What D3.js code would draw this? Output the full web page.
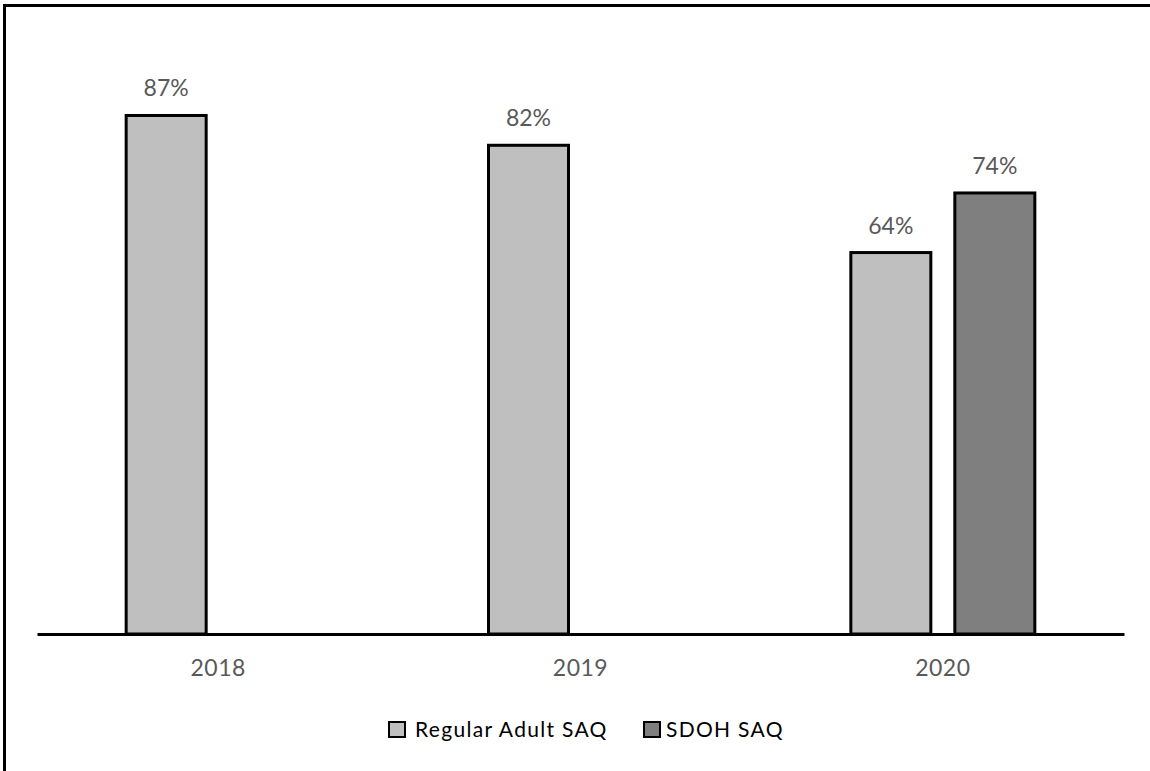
<!DOCTYPE html>
<html>
<head>
<meta charset="utf-8">
<script src="https://cdn.jsdelivr.net/npm/d3@7"></script>
<style>
  html, body { margin: 0; padding: 0; background: #fff; }
  svg { display: block; }
</style>
</head>
<body>
<script>
// Survey completion rates by year and questionnaire type
const years = ["2018", "2019", "2020"];
const seriesNames = ["Regular Adult SAQ", "SDOH SAQ"];
const regularValues = [87, 82, 64];
const sdohValues = [null, null, 74];
const seriesColors = ["#bfbfbf", "#7f7f7f"];

const W = 1150, H = 771;
const svg = d3.select("body").append("svg").attr("width", W).attr("height", H);

// frame around the chart area
svg.append("rect")
  .attr("x", 4.5).attr("y", 5.5)
  .attr("width", 1300).attr("height", 900)
  .attr("fill", "none").attr("stroke", "#000").attr("stroke-width", 3);

const groupW = 184;
const x0 = d3.scaleBand().domain(years).range([37, 1124]).padding(0);
const x1 = d3.scaleBand().domain(seriesNames).range([0, groupW]).paddingInner(0.2308).paddingOuter(0);
const y = d3.scaleLinear().domain([0, 100]).range([634, 38]);

const rows = [];
years.forEach((yr, i) => {
  const vals = [regularValues[i], sdohValues[i]];
  seriesNames.forEach((s, j) => {
    if (vals[j] != null) rows.push({ year: yr, series: s, value: vals[j], color: seriesColors[j] });
  });
});

const groupOffset = (x0.bandwidth() - groupW) / 2;
const font = "Lato, 'Open Sans', sans-serif";

const g = svg.append("g");
g.selectAll("rect.bar").data(rows).enter().append("rect")
  .attr("class", "bar")
  .attr("x", d => x0(d.year) + groupOffset + x1(d.series))
  .attr("y", d => y(d.value))
  .attr("width", x1.bandwidth())
  .attr("height", d => y(0) - y(d.value))
  .attr("fill", d => d.color)
  .attr("stroke", "#000")
  .attr("stroke-width", 3);

g.selectAll("text.val").data(rows).enter().append("text")
  .attr("class", "val")
  .attr("x", d => x0(d.year) + groupOffset + x1(d.series) + x1.bandwidth() / 2)
  .attr("y", d => y(d.value) - 19)
  .attr("text-anchor", "middle")
  .attr("font-family", font)
  .attr("font-size", 23)
  .attr("fill", "#595959")
  .text(d => d.value + "%");

// category axis
const xAxis = svg.append("g").attr("transform", `translate(0,${y(0)})`)
  .call(d3.axisBottom(x0).tickSize(0).tickPadding(26));
xAxis.select(".domain").attr("stroke", "#000").attr("stroke-width", 3);
xAxis.selectAll("text")
  .attr("font-family", font)
  .attr("font-size", 23)
  .attr("letter-spacing", 0.5)
  .attr("fill", "#595959");

// legend
const legendItems = [
  { name: seriesNames[0], color: seriesColors[0], x: 389, gap: 26 },
  { name: seriesNames[1], color: seriesColors[1], x: 644, gap: 22 }
];
const lg = svg.append("g").attr("class", "legend");
legendItems.forEach(it => {
  lg.append("rect")
    .attr("x", it.x).attr("y", 722)
    .attr("width", 16).attr("height", 15)
    .attr("fill", it.color).attr("stroke", "#000").attr("stroke-width", 2);
  lg.append("text")
    .attr("x", it.x + it.gap).attr("y", 737)
    .attr("font-family", font)
    .attr("font-size", 21)
    .attr("letter-spacing", 1.3)
    .attr("fill", "#000")
    .text(it.name);
});
</script>
</body>
</html>
